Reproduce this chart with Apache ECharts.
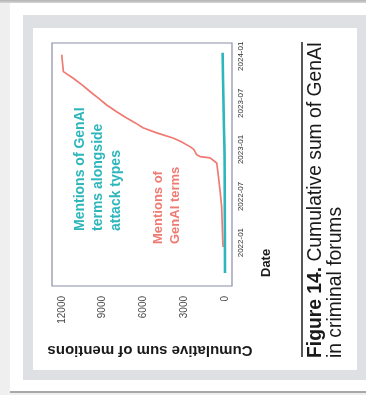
<!DOCTYPE html>
<html>
<head>
<meta charset="utf-8">
<script src="https://cdn.jsdelivr.net/npm/echarts@6/dist/echarts.min.js"></script>
<style>
  html, body { margin: 0; padding: 0; width: 366px; height: 395px; overflow: hidden; background: #efefef; }
  .topline { position: absolute; left: 0; top: 0; width: 366px; height: 3px; background: linear-gradient(#b2b2b2, #d6d6d6); }
  .card { position: absolute; left: 10px; top: 3px; width: 380px; height: 388px; background: #fff; border-bottom: 2px solid #a8a8a8; }
  .panel { position: absolute; left: 23px; top: 15px; width: 360px; height: 365px; background: #dfe0e4; }
  .inner { position: absolute; left: 33px; top: 28px; width: 324px; height: 342px; background: #fff; }
  #chart { position: absolute; left: 0; top: 0; width: 366px; height: 395px; }
</style>
</head>
<body>
<div class="topline"></div>
<div class="card"></div>
<div class="panel"></div>
<div class="inner"></div>
<div id="chart"></div>
<script>
// Cumulative mentions of GenAI terms in criminal forums
const genaiDates = ['2021-12-15', '2022-01-11', '2022-05-22', '2022-07-26', '2022-10-01', '2022-11-09',
  '2022-11-29', '2022-12-04', '2022-12-11', '2023-01-01', '2023-01-12', '2023-02-01', '2023-02-15',
  '2023-03-07', '2023-03-27', '2023-04-15', '2023-05-04', '2023-05-28', '2023-06-24', '2023-07-20',
  '2023-08-16', '2023-09-10', '2023-10-07', '2023-11-02', '2024-01-07'];
const genaiValues = [140, 170, 245, 370, 515, 610, 1100, 1840, 2080, 2300, 2580, 3250, 3830,
  5030, 6040, 6600, 7240, 7950, 8710, 9300, 9940, 10500, 11170, 11900, 12020];

// Cumulative mentions of GenAI terms alongside attack types
const attackDates = ['2021-09-04', '2022-03-01', '2022-08-01', '2022-11-30', '2023-01-15',
  '2023-04-01', '2023-07-01', '2023-10-01', '2024-01-15'];
const attackValues = [0, 10, 20, 30, 45, 80, 110, 145, 175];

// Axis ticks
const valueTicks = [0, 3000, 6000, 9000, 12000];
const dateTicks = ['2022-01-01', '2022-07-01', '2023-01-01', '2023-07-01', '2024-01-01'];

const toTime = s => new Date(s + 'T00:00:00').getTime();
const pad = n => (n < 10 ? '0' : '') + n;
const FONT = '"Liberation Sans", Arial, Helvetica, sans-serif';

const chart = echarts.init(document.getElementById('chart'), null, { renderer: 'canvas' });

chart.setOption({
  backgroundColor: 'transparent',
  animation: false,
  grid: {
    left: 52, top: 43, width: 180, height: 243,
    show: true, borderColor: '#8a8ea8', borderWidth: 1.2, backgroundColor: 'transparent'
  },
  xAxis: {
    type: 'value',
    inverse: true,
    position: 'bottom',
    min: -515,
    max: 12736,
    axisLine: { show: false },
    axisTick: { show: false },
    splitLine: { show: false },
    axisLabel: {
      customValues: valueTicks,
      rotate: 90,
      margin: 10,
      fontSize: 10,
      fontFamily: FONT,
      color: '#4a4a4a',
      formatter: v => String(v)
    }
  },
  yAxis: {
    // dates as timestamps on a linear scale
    type: 'value',
    position: 'right',
    min: toTime('2021-07-15'),
    max: toTime('2024-02-22'),
    axisLine: { show: false },
    axisTick: { show: false },
    splitLine: { show: false },
    axisLabel: {
      customValues: dateTicks.map(toTime),
      rotate: 90,
      margin: 5,
      fontSize: 8,
      fontFamily: FONT,
      color: '#2e2e2e',
      formatter: v => { const d = new Date(v); return d.getFullYear() + '-' + pad(d.getMonth() + 1); }
    }
  },
  series: [
    {
      type: 'line',
      name: 'Mentions of GenAI terms alongside attack types',
      data: attackDates.map((d, i) => [attackValues[i], toTime(d)]),
      showSymbol: false,
      lineStyle: { color: '#2db6bb', width: 2.6 },
      z: 3
    },
    {
      type: 'line',
      name: 'Mentions of GenAI terms',
      data: genaiDates.map((d, i) => [genaiValues[i], toTime(d)]),
      showSymbol: false,
      lineStyle: { color: '#ee7a72', width: 1.7 },
      z: 2
    }
  ],
  graphic: [
    {
      type: 'text', x: 98, y: 231, rotation: Math.PI / 2,
      style: {
        text: 'Mentions of GenAI\nterms alongside\nattack types',
        fill: '#2db6bb', fontSize: 14, fontWeight: 'bold', fontFamily: FONT,
        lineHeight: 18, align: 'left', verticalAlign: 'middle'
      }
    },
    {
      type: 'text', x: 166.5, y: 244, rotation: Math.PI / 2,
      style: {
        text: 'Mentions of\nGenAI terms',
        fill: '#ee7a72', fontSize: 13, fontWeight: 'bold', fontFamily: FONT,
        lineHeight: 17, align: 'left', verticalAlign: 'middle'
      }
    },
    {
      type: 'text', x: 266, y: 277, rotation: Math.PI / 2,
      style: {
        text: 'Date', fill: '#1a1a1a', fontSize: 13, fontWeight: 'bold', fontFamily: FONT,
        align: 'left', verticalAlign: 'middle'
      }
    },
    {
      type: 'text', x: 150, y: 350, rotation: Math.PI,
      style: {
        text: 'Cumulative sum of mentions', fill: '#1a1a1a', fontSize: 15, fontWeight: 'bold', fontFamily: FONT,
        align: 'center', verticalAlign: 'middle'
      }
    },
    {
      type: 'line',
      shape: { x1: 302, y1: 42, x2: 302, y2: 357 },
      style: { stroke: '#1e1e1e', lineWidth: 1.5 }
    },
    {
      type: 'text', x: 326, y: 358, rotation: Math.PI / 2,
      style: {
        text: '{b|Figure 14.} Cumulative sum of GenAI\nin criminal forums',
        fill: '#1a1a1a', fontSize: 19.3, fontFamily: FONT, lineHeight: 20,
        align: 'left', verticalAlign: 'middle',
        rich: {
          b: { fontWeight: 'bold', fontSize: 19.3, fontFamily: FONT, lineHeight: 20, fill: '#1a1a1a' }
        }
      }
    }
  ]
});
</script>
</body>
</html>
